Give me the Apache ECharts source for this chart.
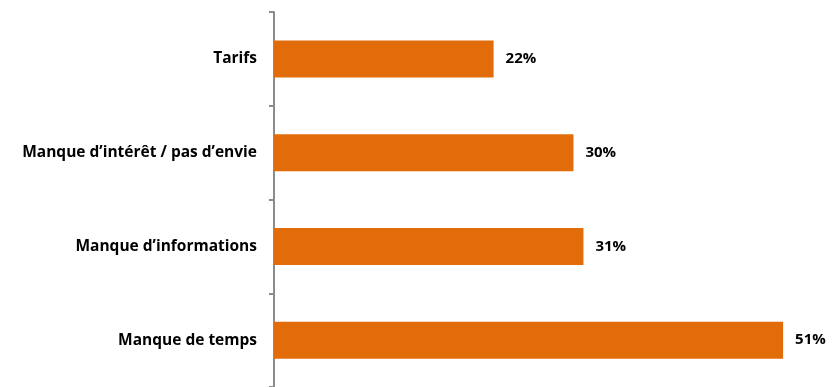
<!DOCTYPE html>
<html>
<head>
<meta charset="utf-8">
<script src="https://cdn.jsdelivr.net/npm/echarts@6/dist/echarts.min.js"></script>
<style>
  html, body { margin: 0; padding: 0; background: #fff; }
  #chart { width: 833px; height: 387px; }
</style>
</head>
<body>
<div id="chart"></div>
<script>
// raisons, de haut en bas
const categories = ['Tarifs', 'Manque d\u2019intérêt / pas d\u2019envie', 'Manque d\u2019informations', 'Manque de temps'];
const values = [22, 30, 31, 51];

const chart = echarts.init(document.getElementById('chart'));
chart.setOption({
  animation: false,
  grid: { left: 274, top: 12, width: 560, height: 379 },
  xAxis: {
    type: 'value',
    min: 0,
    max: 56,
    show: false,
  },
  yAxis: {
    type: 'category',
    data: categories,
    inverse: true,
    axisLine: { show: true, lineStyle: { color: '#8c8c8c', width: 2 } },
    axisTick: { show: true, length: 5, lineStyle: { color: '#8c8c8c', width: 2 } },
    axisLabel: {
      margin: 17,
      color: '#000',
      fontFamily: 'Open Sans',
      fontWeight: 'bold',
      fontSize: 15.5,
    },
  },
  series: [
    {
      type: 'bar',
      data: values,
      barWidth: 37,
      itemStyle: { color: '#E36C0A' },
      label: {
        show: true,
        position: 'right',
        distance: 12,
        formatter: '{c}%',
        color: '#000',
        fontFamily: 'Open Sans',
        fontWeight: 'bold',
        fontSize: 15,
      },
    },
  ],
});
</script>
</body>
</html>
